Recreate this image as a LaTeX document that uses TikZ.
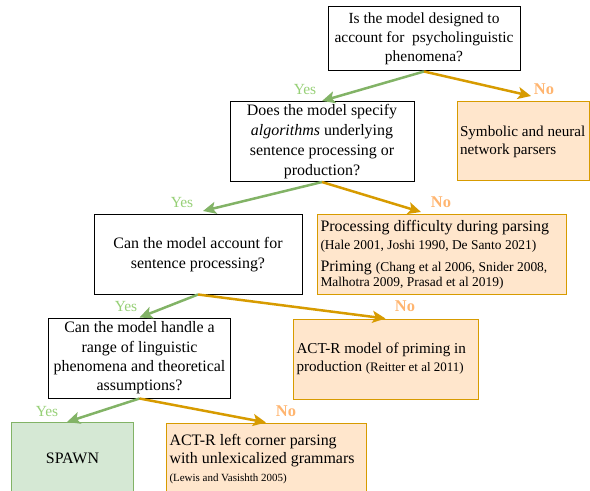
\documentclass[tikz,border=0pt]{standalone}
\usepackage{fontspec}
\setmainfont{Liberation Serif}
\usetikzlibrary{arrows.meta}
\definecolor{yesline}{HTML}{82B366}
\definecolor{yestext}{HTML}{97D077}
\definecolor{noline}{HTML}{D79B00}
\definecolor{notext}{HTML}{FFB570}
\definecolor{nofill}{HTML}{FFE6CC}
\definecolor{yesfill}{HTML}{D5E8D4}
\tikzset{
	question/.style={rectangle,draw,line width=1bp,align=center,inner sep=1mm,
		font=\fontsize{16}{19.3}\selectfont},
	answer/.style={rectangle,draw=noline,fill=nofill,line width=1bp,align=flush left,
		inner xsep=3.5bp,font=\fontsize{16}{18}\selectfont},
	yesarrow/.style={draw=yesline,line width=2.5bp,-{Stealth[length=13bp,width=12bp,inset=3bp]}},
	noarrow/.style={draw=noline,line width=2.5bp,-{Stealth[length=13bp,width=12bp,inset=3bp]}},
	yeslabel/.style={text=yestext,inner sep=0pt,font=\fontsize{15.5}{18}\selectfont},
	nolabel/.style={text=notext,inner sep=0pt,font=\bfseries\fontsize{16.5}{18}\selectfont}
}
\newcommand{\refs}[1]{{\fontsize{13.5}{16}\selectfont #1}}
\begin{document}
\begin{tikzpicture}[x=1bp,y=-1bp]
	\clip (0,0) rectangle (590,491);
	% questions
	\node [question,minimum width=192bp,minimum height=64bp,font=\fontsize{15.5}{19}\selectfont] (q1) at (424,39)
		{Is the model designed to\\account for\ \ psycholinguistic\\phenomena?};
	\node [question,minimum width=184bp,minimum height=79bp,font=\fontsize{16}{20}\selectfont] (q2) at (322,141.5)
		{Does the model specify\\\emph{algorithms} underlying\\sentence processing or\\production?};
	\node [question,minimum width=208bp,minimum height=79bp,font=\fontsize{16}{20}\selectfont] (q3) at (198,254.5)
		{Can the model account for\\sentence processing?};
	\node [question,minimum width=181bp,minimum height=80bp] (q4) at (139.5,358)
		{Can the model handle a\\range of linguistic\\phenomena and theoretical\\assumptions?};
	% answers
	\node [answer,text width=126bp,inner xsep=3bp,minimum height=79bp,font=\fontsize{15.2}{18}\selectfont] (parsers) at (523,141.5)
		{Symbolic and neural\\network parsers\\[-3bp]};
	\node [answer,text width=242bp,minimum height=79bp] (difficulty) at (441.5,254.5)
		{Processing difficulty during parsing\\
		\refs{(Hale 2001, Joshi 1990, De Santo 2021)}\\[4bp]
		Priming \refs{(Chang et al 2006, Snider 2008,}\\[-3bp]
		\refs{Malhotra 2009, Prasad et al 2019)}};
	\node [answer,text width=178bp,minimum height=80bp,font=\fontsize{15.2}{18}\selectfont] (priming) at (385.5,359)
		{ACT-R model of priming in\\production {\fontsize{13}{16}\selectfont(Reitter et al 2011)}};
	\node [answer,text width=193bp,minimum height=72bp] (leftcorner) at (266,459)
		{ACT-R left corner parsing\\with unlexicalized grammars\\
		{\fontsize{11}{14}\selectfont(Lewis and Vasishth 2005)}};
	\node [rectangle,draw=yesline,fill=yesfill,line width=1bp,minimum width=121bp,minimum height=72bp,
		font=\fontsize{16}{18}\selectfont] (spawn) at (72.5,458) {SPAWN};
	% arrow ends
	\coordinate (n1) at (531,96);
	\coordinate (y2) at (203,211);
	\coordinate (n2) at (421,212);
	\coordinate (y4) at (67,422);
	% connectors
	\draw [yesarrow] (q1.south) -- (q2.north);
	\draw [noarrow] (q1.south) -- (n1);
	\draw [yesarrow] (q2.south) -- (y2);
	\draw [noarrow] (q2.south) -- (n2);
	\draw [yesarrow] (q3.south) -- (q4.north);
	\draw [noarrow] (q3.south) -- (priming.north);
	\draw [yesarrow] (q4.south) -- (y4);
	\draw [noarrow] (q4.south) -- (leftcorner.north);
	% labels
	\node [yeslabel] (yes1) at (305,90) {Yes};
	\node [nolabel] (no1) at (544,89) {No};
	\node [yeslabel] (yes2) at (182,203) {Yes};
	\node [nolabel] (no2) at (441,202) {No};
	\node [yeslabel] (yes3) at (126,307) {Yes};
	\node [nolabel] (no3) at (405,306) {No};
	\node [yeslabel] (yes4) at (47,412) {Yes};
	\node [nolabel] (no4) at (286,411) {No};
\end{tikzpicture}
\end{document}
